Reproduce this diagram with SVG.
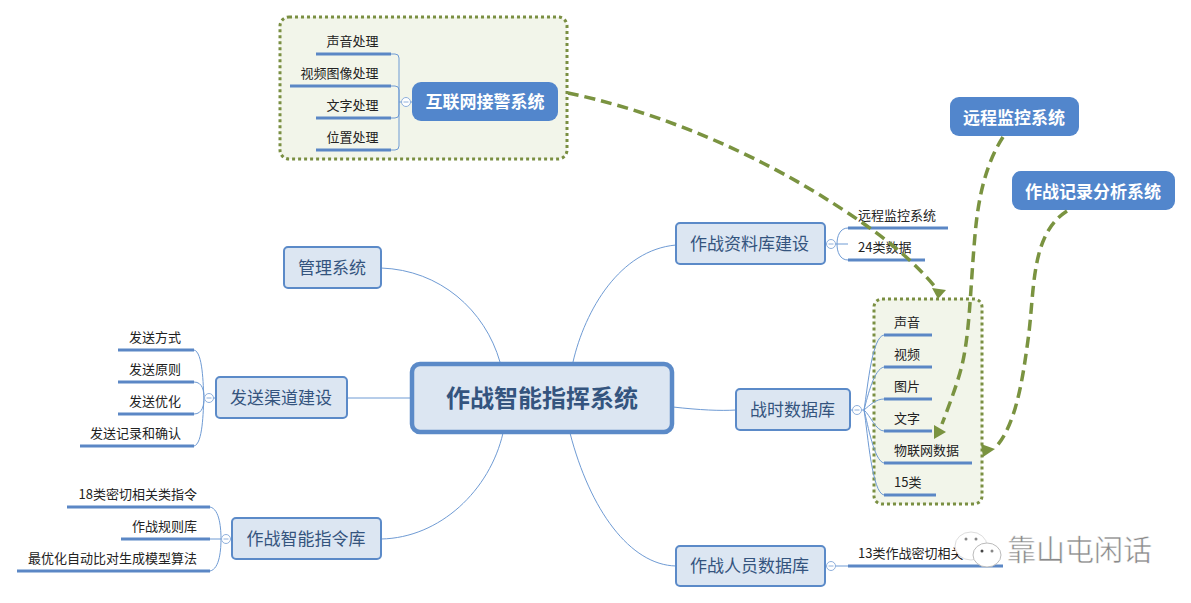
<svg xmlns="http://www.w3.org/2000/svg" width="1191" height="603" viewBox="0 0 1191 603">
<style>
text{font-family:"Noto Sans CJK SC","Microsoft YaHei","Liberation Sans",sans-serif}
.frame{fill:#f2f5ea;stroke:#7a8f42;stroke-width:3;stroke-dasharray:3 3}
.n rect{fill:#dce6f2;stroke:#5b8ac8;stroke-width:2}
.n text{font-size:17px;fill:#34547e;text-anchor:middle}
.b rect{fill:#5286cc}
.b text{font-size:17px;font-weight:700;fill:#fff;text-anchor:middle}
.l{font-size:13px;fill:#222}
.r{text-anchor:end}
.leaf{stroke:#5b87c5;stroke-width:3;fill:none}
.c{stroke:#6f9bd4;stroke-width:1;fill:none}
.t{fill:#fff;stroke:#8fb0dc;stroke-width:1}
.t2{stroke:#8fb0dc;stroke-width:1}
.d{stroke:#7a9340;stroke-width:3.5;stroke-dasharray:11 6;fill:none}
.a{fill:#7a9340}
</style>
<rect width="1191" height="603" fill="#fff"/>
<g id="frames">
<rect class="frame" x="280" y="17" width="287" height="142" rx="9"/>
<rect class="frame" x="874" y="299" width="108" height="205" rx="8"/>
</g>
<g id="connectors">
<path class="c" d="M381 268C440 270 485 310 500 362"/>
<path class="c" d="M347 398H412"/>
<path class="c" d="M381 539C440 538 490 490 503 433"/>
<path class="c" d="M676 245C620 250 585 310 573 362"/>
<path class="c" d="M673 407C700 410 720 411 736 410"/>
<path class="c" d="M570 433C590 510 630 565 676 566"/>
<path class="c" d="M391 54H395Q399 54 399 58V146Q399 150 395 150H391M391 86H395Q399 86 399 90V114Q399 118 395 118H391M399 102H412"/>
<path class="c" d="M194 350C203 352 203 385 204 398C203 411 203 444 194 446M194 382C203 382 204 392 204 398C204 404 203 414 194 414M204 398H216"/>
<path class="c" d="M210 507C220 509 221 530 221 539C221 548 220 569 210 571M210 539H232"/>
<path class="c" d="M848 228C840 228 837 236 837 244C837 252 840 260 848 260M825 244H848"/>
<path class="c" d="M884 335C872 337 868 385 864 410C868 435 872 493 884 495M884 367C874 369 868 395 864 410C868 425 874 461 884 463M884 399C876 399 870 405 864 410C870 415 876 431 884 431M850 410H864"/>
<path class="c" d="M825 566H848"/>
</g>
<g id="leaves">
<path class="leaf" d="M316 54H391M290 86H391M316 118H391M316 150H391"/>
<path class="leaf" d="M118 350H194M118 382H194M118 414H194M80 446H194"/>
<path class="leaf" d="M67 507H210M121 539H210M17 571H210"/>
<path class="leaf" d="M848 228H948M848 260H925M848 566H1003"/>
<path class="leaf" d="M884 335H932M884 367H932M884 399H932M884 431H932M884 463H972M884 495H936"/>
</g>
<g id="toggles">
<circle class="t" cx="406" cy="102" r="4.500"/><path class="t2" d="M403.500 102H408.500"/>
<circle class="t" cx="209" cy="398" r="4.500"/><path class="t2" d="M206.500 398H211.500"/>
<circle class="t" cx="226" cy="539" r="4.500"/><path class="t2" d="M223.500 539H228.500"/>
<circle class="t" cx="831" cy="244" r="4.500"/><path class="t2" d="M828.500 244H833.500"/>
<circle class="t" cx="857" cy="410" r="4.500"/><path class="t2" d="M854.500 410H859.500"/>
<circle class="t" cx="831" cy="566" r="4.500"/><path class="t2" d="M828.500 566H833.500"/>
</g>
<g id="leaf-labels">
<text class="l r" x="378.500" y="46">声音处理</text>
<text class="l r" x="378.500" y="78">视频图像处理</text>
<text class="l r" x="378.500" y="110">文字处理</text>
<text class="l r" x="378.500" y="142">位置处理</text>
<text class="l r" x="181" y="342">发送方式</text>
<text class="l r" x="181" y="374">发送原则</text>
<text class="l r" x="181" y="406">发送优化</text>
<text class="l r" x="181" y="438">发送记录和确认</text>
<text class="l r" x="197" y="499">18类密切相关类指令</text>
<text class="l r" x="197" y="531">作战规则库</text>
<text class="l r" x="197" y="563">最优化自动比对生成模型算法</text>
<text class="l" x="858" y="220">远程监控系统</text>
<text class="l" x="858" y="252">24类数据</text>
<text class="l" x="858" y="558">13类作战密切相关</text>
<text class="l" x="894" y="326.500">声音</text>
<text class="l" x="894" y="358.500">视频</text>
<text class="l" x="894" y="390.500">图片</text>
<text class="l" x="894" y="422.500">文字</text>
<text class="l" x="894" y="454.500">物联网数据</text>
<text class="l" x="894" y="486.500">15类</text>
</g>
<g id="center">
<rect x="412" y="364" width="260" height="68" rx="8" fill="#dce6f2" stroke="#5b8ac8" stroke-width="4.500"/>
<text x="542" y="407" font-size="24" font-weight="700" fill="#34547e" text-anchor="middle">作战智能指挥系统</text>
</g>
<g id="n1" class="n"><rect x="284" y="247" width="97" height="41" rx="4"/><text x="332" y="273.500">管理系统</text></g>
<g id="n2" class="n"><rect x="216" y="377" width="131" height="41" rx="4"/><text x="281" y="404">发送渠道建设</text></g>
<g id="n3" class="n"><rect x="232" y="518" width="149" height="41" rx="4"/><text x="306" y="545">作战智能指令库</text></g>
<g id="n4" class="n"><rect x="676" y="223" width="149" height="41" rx="4"/><text x="749.500" y="250">作战资料库建设</text></g>
<g id="n5" class="n"><rect x="736" y="389" width="114" height="41" rx="4"/><text x="792.500" y="416">战时数据库</text></g>
<g id="n6" class="n"><rect x="676" y="546" width="149" height="40" rx="4"/><text x="749.500" y="572">作战人员数据库</text></g>
<g id="b1" class="b"><rect x="412" y="82" width="146" height="39" rx="9"/><text x="485" y="108">互联网接警系统</text></g>
<g id="b2" class="b"><rect x="950" y="97" width="129" height="39" rx="9"/><text x="1014" y="123.500">远程监控系统</text></g>
<g id="b3" class="b"><rect x="1012" y="171" width="163" height="39" rx="9"/><text x="1093" y="197.500">作战记录分析系统</text></g>
<g id="relations">
<path class="d" d="M568 93C640 108 730 140 820 195C860 220 905 250 936 288"/>
<polygon class="a" points="938,299 932,288 946,290"/>
<path class="d" d="M1003 137C985 165 978 200 975 235C971 280 970 320 965 350C962 370 955 390 942 424"/>
<polygon class="a" points="946,432 934,425 934,439"/>
<path class="d" d="M1067 211C1030 235 1035 290 1028 340C1022 385 1015 425 996 447"/>
<polygon class="a" points="995,449 981,444 983,457"/>
</g>
<g id="watermark">
<ellipse cx="971" cy="546" rx="16" ry="14" fill="#fff" stroke="#ddd"/>
<ellipse cx="987" cy="555" rx="14" ry="12" fill="#fff" stroke="#bbb"/>
<circle cx="966" cy="539" r="1.500" fill="#888"/><circle cx="976" cy="539" r="1.500" fill="#888"/><circle cx="982" cy="551" r="1.500" fill="#444"/><circle cx="992" cy="551" r="1.500" fill="#888"/>
<text x="1007" y="561" font-size="29" fill="#8a8a8a" stroke="#fff" stroke-width="0.500">靠山屯闲话</text>
</g>
</svg>
